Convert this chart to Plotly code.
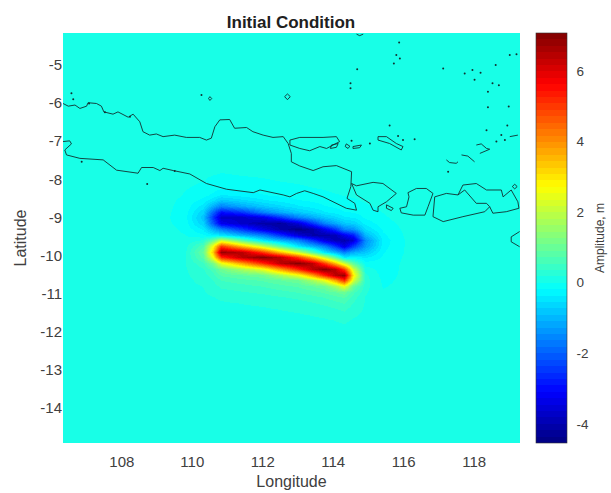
import plotly.graph_objects as go

title_text = "Initial Condition"
x_label = "Longitude"
y_label = "Latitude"
cbar_label = "Amplitude, m"
x_ticks = [108, 110, 112, 114, 116, 118]
y_ticks = [-5, -6, -7, -8, -9, -10, -11, -12, -13, -14]
cbar_ticks = [6, 4, 2, 0, -2, -4]
x_range = [106.33, 119.3]
y_range = [-14.92, -4.16]
z_range = [-4.54, 7.07]
BG = 0.13

# latitude of each row, south to north
lat_core = [-11.85, -11.7, -11.55, -11.4, -11.25, -11.1, -10.95, -10.8, -10.65, -10.5,
            -10.35, -10.2, -10.05, -9.9, -9.75, -9.6, -9.45, -9.3, -9.15, -9.0,
            -8.85, -8.7, -8.55, -8.4, -8.25, -8.1, -7.95, -7.8]
lat_rows = [-14.92, -12.6] + lat_core + [-4.16]

lon_cols = [106.33, 109.0, 109.8, 110.3, 110.6, 110.8, 111.4, 112.0, 112.5, 113.0,
            113.4, 113.75, 114.05, 114.3, 114.55, 114.9, 115.4, 116.1, 116.8, 119.3]

# amplitude (m) read along each longitude, south to north
c_flat = [BG] * 28
c_109_0 = [.13]*16 + [.12, .11, .1, .09, .09, .09, .09, .1, .1, .11, .12, .13]
c_109_8 = [.13, .13, .13, .13, .13, .13, .13, .14, .14, .15, .16, .17, .17, .15, .1, .05, .0, -.05, -.1, -.12, -.1, -.08, -.05, -.02, .0, .03, .06, .1]
c_110_3 = [.13, .13, .13, .13, .14, .15, .16, .18, .22, .26, .33, .5, .8, .95, .7, .2, -.15, -.4, -.7, -.85, -.7, -.45, -.25, -.12, -.06, -.02, .02, .06]
c_110_6 = [.13, .13, .13, .14, .15, .17, .22, .28, .36, .48, .65, 1.2, 2.7, 3.4, 2.7, 1.0, -.3, -1.1, -2.1, -2.5, -2.0, -1.1, -.5, -.25, -.12, -.06, -.03, .03]
c_110_8 = [.13, .13, .13, .14, .16, .2, .28, .4, .55, .75, 1.05, 2.5, 5.2, 6.8, 5.0, 2.1, -.4, -1.6, -3.3, -3.7, -3.0, -1.6, -.8, -.4, -.2, -.1, -.05, 0]
c_111_4 = [.13, .13, .14, .15, .18, .24, .34, .47, .65, .9, 1.7, 3.8, 6.4, 6.4, 3.5, .8, -1.0, -2.5, -3.7, -3.7, -2.5, -1.15, -.6, -.3, -.15, -.07, -.02, .03]
c_112_0 = [.13, .13, .14, .16, .2, .28, .4, .55, .75, 1.05, 2.5, 5.2, 7.0, 5.0, 2.1, -.4, -1.6, -3.4, -4.1, -3.3, -1.6, -.8, -.4, -.2, -.1, -.05, 0, .05]
c_112_5 = [.13, .14, .15, .18, .24, .34, .47, .65, .9, 1.7, 3.8, 6.4, 6.4, 3.5, .8, -1.0, -2.5, -4.0, -4.2, -2.5, -1.15, -.6, -.3, -.15, -.07, -.02, .03, .08]
c_113_0 = [.13, .14, .16, .2, .28, .4, .55, .75, 1.05, 2.5, 5.2, 7.0, 5.0, 2.1, -.4, -1.6, -3.5, -4.45, -3.5, -1.6, -.8, -.4, -.2, -.1, -.05, 0, .05, .1]
c_113_4 = [.14, .15, .18, .24, .34, .47, .65, .9, 1.7, 3.8, 6.4, 6.4, 3.5, .8, -1.0, -2.5, -4.0, -4.1, -2.5, -1.15, -.6, -.3, -.15, -.07, -.02, .03, .08, .12]
c_113_75 = [.14, .16, .2, .28, .4, .55, .75, 1.05, 2.5, 5.2, 7.0, 5.0, 2.1, -.4, -1.6, -3.4, -4.1, -3.3, -1.6, -.8, -.4, -.2, -.1, -.05, 0, .05, .1, .13]
c_114_05 = [.15, .18, .24, .34, .47, .65, .9, 1.7, 3.8, 6.4, 6.4, 3.5, .8, -1.0, -2.5, -3.9, -3.9, -2.5, -1.15, -.6, -.3, -.15, -.07, -.02, .03, .08, .12, .13]
c_114_3 = [.16, .2, .28, .4, .55, .75, 1.05, 2.5, 5.2, 6.8, 5.0, 2.1, -.4, -1.6, -3.4, -4.0, -3.3, -1.6, -.8, -.4, -.2, -.1, -.05, 0, .05, .1, .13, .13]
c_114_55 = [.14, .16, .2, .26, .34, .45, .6, 1.0, 2.3, 2.9, 2.2, .8, -.3, -1.1, -2.4, -3.6, -2.8, -1.4, -.7, -.35, -.18, -.08, -.03, .02, .06, .1, .13, .13]
c_114_9 = [.13, .13, .14, .15, .16, .17, .2, .24, .26, .22, .1, -.1, -.4, -.8, -1.3, -1.5, -1.0, -.55, -.3, -.15, -.08, -.03, .02, .06, .1, .13, .13, .13]
c_115_4 = [.13, .13, .12, .1, .08, .05, .02, -.02, -.05, -.08, -.1, -.12, -.15, -.2, -.25, -.28, -.22, -.15, -.08, -.03, 0, .03, .06, .09, .11, .13, .13, .13]
c_116_1 = [.13, .13, .13, .12, .11, .1, .08, .06, .05, .05, .05, .05, .04, .03, .03, .03, .04, .05, .07, .09, .11, .12, .13, .13, .13, .13, .13, .13]

columns = [c_flat, c_109_0, c_109_8, c_110_3, c_110_6, c_110_8, c_111_4, c_112_0, c_112_5,
           c_113_0, c_113_4, c_113_75, c_114_05, c_114_3, c_114_55, c_114_9, c_115_4,
           c_116_1, c_flat, c_flat]
z_core = [list(r) for r in zip(*columns)]
z_rows = [[BG]*len(lon_cols), [BG]*len(lon_cols)] + z_core + [[BG]*len(lon_cols)]

# coastlines, (lon, lat)
java = [(106.33,-6.01),(106.48,-6.08),(106.67,-6.05),(106.81,-6.14),(107.00,-6.08),(107.04,-5.99),
        (107.28,-6.01),(107.42,-6.08),(107.49,-6.23),(107.75,-6.29),(107.89,-6.23),(108.18,-6.37),
        (108.32,-6.29),(108.51,-6.49),(108.60,-6.75),(108.79,-6.84),(108.98,-6.81),(109.17,-6.88),
        (109.50,-6.84),(109.83,-6.90),(110.21,-6.90),(110.40,-6.97),(110.54,-6.92),(110.64,-6.62),
        (110.78,-6.44),(111.06,-6.43),(111.20,-6.66),(111.54,-6.64),(111.72,-6.75),(112.01,-6.84),
        (112.29,-6.90),(112.58,-6.88),(112.72,-7.06),(112.81,-7.32),(112.81,-7.54),(113.05,-7.65),
        (113.43,-7.77),(113.71,-7.67),(114.09,-7.64),(114.52,-7.80),(114.50,-8.19),(114.39,-8.50),
        (114.61,-8.63),(114.66,-8.81),(114.37,-8.76),(113.90,-8.54),(113.71,-8.46),(113.43,-8.37),
        (113.19,-8.30),(112.96,-8.37),(112.77,-8.46),(112.58,-8.41),(111.92,-8.28),(111.73,-8.35),
        (110.97,-8.26),(110.40,-8.11),(109.93,-7.86),(109.46,-7.77),(109.17,-7.71),(109.08,-7.77),
        (108.89,-7.69),(108.56,-7.69),(108.46,-7.84),(107.85,-7.76),(107.47,-7.49),(106.81,-7.45),
        (106.43,-7.36),(106.38,-7.23),(106.57,-7.07),(106.52,-6.99),(106.33,-7.01)]
madura = [(112.77,-6.97),(113.05,-6.90),(113.71,-6.90),(114.09,-6.88),(114.18,-7.01),(113.81,-7.19),
          (113.62,-7.14),(113.33,-7.25),(113.05,-7.19),(112.77,-7.10),(112.77,-6.97)]
bali = [(114.52,-8.11),(114.66,-8.17),(115.13,-8.08),(115.41,-8.11),(115.79,-8.37),(115.51,-8.59),
        (115.27,-8.72),(115.27,-8.85),(115.13,-8.81),(115.04,-8.63),(114.66,-8.41),(114.52,-8.11)]
penida = [(115.51,-8.67),(115.70,-8.76),(115.65,-8.82),(115.51,-8.76),(115.51,-8.67)]
lombok = [(116.12,-8.35),(116.36,-8.24),(116.64,-8.24),(116.83,-8.37),(116.69,-8.72),(116.60,-8.94),
          (116.27,-8.94),(115.93,-8.88),(115.89,-8.76),(116.08,-8.72),(116.15,-8.46),(116.12,-8.35)]
sumbawa = [(116.83,-8.98),(116.88,-8.46),(117.21,-8.37),(117.54,-8.41),(117.68,-8.15),(118.06,-8.11),
           (118.35,-8.28),(118.77,-8.28),(118.82,-8.46),(119.05,-8.28),(119.24,-8.59),(119.27,-8.76),
           (118.91,-8.85),(118.53,-8.89),(118.44,-8.72),(118.30,-8.85),(117.68,-8.98),(117.12,-9.11),(116.83,-8.98)]
saleh_bay = [(117.54,-8.41),(117.73,-8.28),(118.06,-8.63),(118.35,-8.63),(118.44,-8.72)]
sumba_tip = [(119.29,-9.37),(119.05,-9.51),(119.05,-9.64),(119.29,-9.77)]
top_arc = [(114.66,-4.19),(114.75,-4.23),(114.85,-4.19)]
kangean = [(115.27,-6.88),(115.51,-6.88),(115.79,-7.06),(115.98,-7.14),(115.93,-7.23),(115.60,-7.06),(115.27,-6.97),(115.27,-6.88)]
islet_a = [(114.37,-7.07),(114.47,-7.13),(114.42,-7.19),(114.34,-7.14),(114.37,-7.07)]
islet_b = [(114.56,-7.14),(114.80,-7.10),(114.75,-7.17),(114.56,-7.19),(114.56,-7.14)]
islet_c = [(113.95,-7.10),(114.14,-7.06),(114.09,-7.16),(113.92,-7.19),(113.95,-7.10)]
islet_d = [(112.62,-5.83),(112.70,-5.76),(112.78,-5.83),(112.70,-5.91),(112.62,-5.83)]
islet_e = [(119.08,-8.19),(119.15,-8.13),(119.22,-8.19),(119.15,-8.25),(119.08,-8.19)]
islet_f = [(110.46,-5.88),(110.50,-5.83),(110.55,-5.88),(110.50,-5.93),(110.46,-5.88)]
chain_a = [(117.21,-7.49),(117.30,-7.56),(117.49,-7.58),(117.54,-7.54)]
chain_b = [(117.64,-7.36),(117.82,-7.39),(118.01,-7.54)]
chain_c = [(118.06,-7.10),(118.20,-7.07),(118.35,-7.19),(118.44,-7.21)]
chain_d = [(118.16,-7.32),(118.44,-7.21)]
chain_e = [(119.01,-6.88),(119.24,-6.84)]
coast_parts = [java, madura, bali, penida, lombok, sumbawa, saleh_bay, sumba_tip, top_arc, kangean,
               islet_a, islet_b, islet_c, islet_d, islet_e, islet_f, chain_a, chain_b, chain_c, chain_d, chain_e]
small_islands = [(106.57,-5.74),(106.62,-5.90),(110.26,-5.79),(106.86,-7.54),(108.72,-8.12),(115.87,-4.41),
                 (115.79,-4.74),(115.89,-4.83),(115.72,-4.96),(114.68,-5.11),(114.49,-5.48),(114.49,-5.61),
                 (117.12,-5.09),(117.73,-5.22),(117.95,-5.13),(118.18,-5.20),(118.01,-5.39),(118.52,-5.48),
                 (118.70,-5.53),(118.61,-5.00),(119.01,-4.74),(119.20,-4.72),(118.39,-5.70),(118.39,-6.11),
                 (118.98,-6.09),(118.94,-6.59),(118.35,-6.71),(115.60,-6.59),(118.77,-6.84),(118.63,-7.01),
                 (118.87,-6.97),(116.31,-6.95),(115.04,-7.06),(114.52,-6.99),(117.26,-7.80),(115.98,-6.97),(115.84,-6.86),
                 (107.07,-6.01),(107.52,-6.24),(108.23,-6.36),(109.50,-7.78)]

coast_x, coast_y = [], []
for part in coast_parts:
    coast_x += [p[0] for p in part] + [None]
    coast_y += [p[1] for p in part] + [None]

# MATLAB jet in 64 steps
def jet(t):
    r = min(max(min(4*t-1.5, -4*t+4.5), 0), 1)
    g = min(max(min(4*t-0.5, -4*t+3.5), 0), 1)
    b = min(max(min(4*t+0.5, -4*t+2.5), 0), 1)
    return f"rgb({round(r*255)},{round(g*255)},{round(b*255)})"
N = 64
jet_scale = []
for k in range(N):
    c = jet((k+0.5)/N)
    jet_scale += [[k/N, c], [(k+1)/N, c]]

FONT = "Liberation Sans"
INK = "#404040"
W, H = 611, 493
L, R, T, B = 63, 91, 33, 50
plot_w = W - L - R
plot_h = H - T - B

fig = go.Figure()
fig.add_trace(go.Heatmap(
    x=lon_cols, y=lat_rows, z=z_rows, zsmooth="best",
    zmin=z_range[0], zmax=z_range[1], colorscale=jet_scale, hoverinfo="skip",
    colorbar=dict(
        x=1.035, xanchor="left", xpad=0, y=0.5, yanchor="middle", ypad=0,
        len=1, lenmode="fraction", thickness=31, thicknessmode="pixels",
        outlinecolor="#333333", outlinewidth=0.6,
        tickmode="array", tickvals=cbar_ticks, ticktext=[str(v) for v in cbar_ticks],
        ticks="outside", ticklen=7, tickwidth=0.6, tickcolor="rgba(0,0,0,0)",
        tickfont=dict(family=FONT, size=13.5, color=INK),
    ),
))
fig.add_trace(go.Scatter(x=coast_x, y=coast_y, mode="lines",
                         line=dict(color="#123030", width=0.9), hoverinfo="skip", showlegend=False))
fig.add_trace(go.Scatter(x=[p[0] for p in small_islands], y=[p[1] for p in small_islands], mode="markers",
                         marker=dict(color="#123030", size=2), hoverinfo="skip", showlegend=False))

fig.update_layout(
    width=W, height=H, autosize=False,
    margin=dict(l=L, r=R, t=T, b=B),
    paper_bgcolor="white", plot_bgcolor="white", showlegend=False,
    annotations=[dict(text=cbar_label, xref="paper", yref="paper", textangle=-90,
                      x=(600 - L)/plot_w, y=1 - (238 - T)/plot_h, xanchor="center", yanchor="middle",
                      showarrow=False, font=dict(family=FONT, size=12, color=INK))],
    title=dict(text=f"<b>{title_text}</b>", x=291/W, xanchor="center",
               y=1-22/H, yanchor="middle", font=dict(family=FONT, size=17, color="#202020")),
    xaxis=dict(range=x_range, tickmode="array", tickvals=x_ticks, ticktext=[str(v) for v in x_ticks],
               showgrid=False, zeroline=False, showline=False, ticks="outside", ticklen=5, tickcolor="rgba(0,0,0,0)",
               automargin=False,
               tickfont=dict(family=FONT, size=15, color=INK),
               title=dict(text=x_label, font=dict(family=FONT, size=16, color=INK), standoff=6)),
    yaxis=dict(range=y_range, tickmode="array", tickvals=y_ticks, ticktext=[str(v) for v in y_ticks],
               showgrid=False, zeroline=False, showline=False, ticks="", automargin=False,
               tickfont=dict(family=FONT, size=15, color=INK),
               title=dict(text=y_label, font=dict(family=FONT, size=16, color=INK), standoff=9)),
)
fig.write_html("out.html", post_script="document.body.style.margin='0';", config={"displayModeBar": False})
